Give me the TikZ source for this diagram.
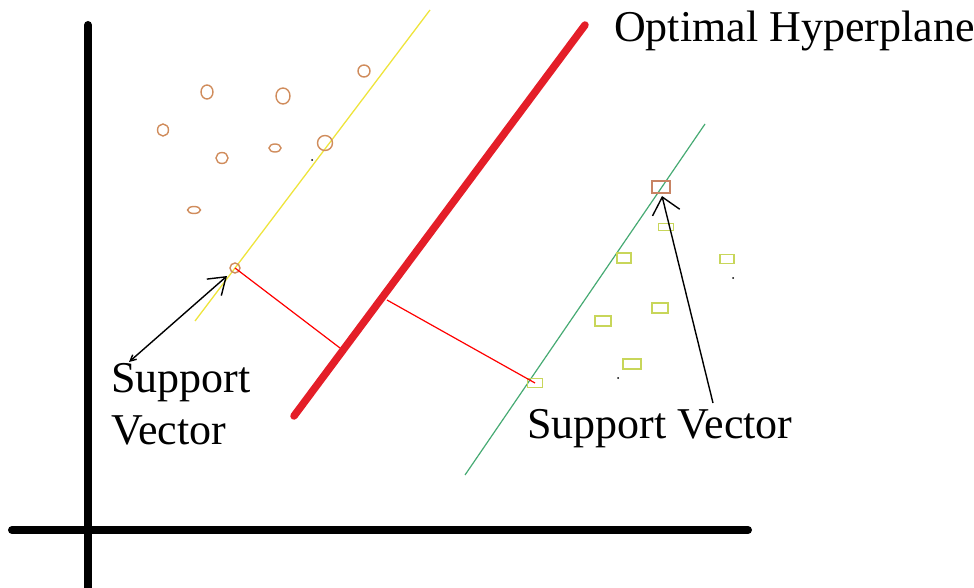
\documentclass[tikz,border=0pt]{standalone}
\usepackage{fontspec}
\setmainfont{Liberation Serif}
\usetikzlibrary{arrows.meta,shapes.geometric}
\definecolor{circcol}{RGB}{208,140,92}
\definecolor{rectcol}{RGB}{200,214,90}
\definecolor{svrect}{RGB}{200,132,100}
\definecolor{yelline}{RGB}{238,228,60}
\definecolor{grnline}{RGB}{70,170,115}
\definecolor{hypred}{RGB}{228,30,40}
\tikzset{
  axisline/.style={line width=8pt,line cap=round,black},
  pt/.style={ellipse,draw=circcol,line width=1.4pt,inner sep=0pt,minimum width=#1},
  bx/.style={rectangle,draw=rectcol,line width=1.4pt,inner sep=0pt},
  lbl/.style={font=\fontsize{44}{52}\selectfont,inner sep=0pt,anchor=base west},
  dotpt/.style={circle,fill=black,inner sep=0pt,minimum size=2pt},
  pointer/.style={black,line width=1.4pt}
}
\begin{document}
\begin{tikzpicture}[x=1pt,y=-1pt]
\useasboundingbox (0,0) rectangle (974,588);
% axes
\coordinate (ytop) at (88,25);
\coordinate (ybot) at (88,600);
\coordinate (xl) at (12,530);
\coordinate (xr) at (748,530);
\draw[axisline] (ytop) -- (ybot);
\draw[axisline] (xl) -- (xr);
% margin lines
\coordinate (ya) at (430,10);
\coordinate (yb) at (195,321);
\draw[yelline,line width=1.3pt] (ya) -- (yb);
\coordinate (ga) at (705,124);
\coordinate (gb) at (465,475);
\draw[grnline,line width=1.2pt] (ga) -- (gb);
% hyperplane
\coordinate (ha) at (585,25);
\coordinate (hb) at (294,416);
\draw[hypred,line width=7.5pt,line cap=round] (ha) -- (hb);
% circles
\node[pt=12pt,minimum height=14pt] (c1) at (207,92) {};
\node[pt=14pt,minimum height=16pt] (c2) at (283,96) {};
\node[pt=12pt,minimum height=12pt] (c3) at (364,71) {};
\node[pt=11pt,minimum height=12pt] (c4) at (163,130) {};
\node[pt=12pt,minimum height=11pt] (c5) at (222,158) {};
\node[pt=12pt,minimum height=8pt] (c6) at (275,148) {};
\node[pt=15pt,minimum height=15pt] (c7) at (325,143) {};
\node[pt=13pt,minimum height=7pt] (c8) at (194,210) {};
\node[pt=10pt,minimum height=10pt] (sv1) at (235,268) {};
% rectangles
\node[rectangle,draw=svrect,line width=1.4pt,inner sep=0pt,minimum width=18pt,minimum height=12pt] (sv2) at (661,187) {};
\node[bx,minimum width=15pt,minimum height=7pt] (r1) at (666,227) {};
\node[bx,minimum width=14pt,minimum height=10pt] (r2) at (624,258) {};
\node[bx,minimum width=14pt,minimum height=9pt] (r3) at (727,259) {};
\node[bx,minimum width=16pt,minimum height=10pt] (r4) at (660,308) {};
\node[bx,minimum width=16pt,minimum height=10pt] (r5) at (603,321) {};
\node[bx,minimum width=18pt,minimum height=10pt] (r6) at (632,364) {};
\node[bx,minimum width=15pt,minimum height=9pt] (sv3) at (535,383) {};
% small dots
\node[dotpt] (d1) at (312,160) {};
\node[dotpt] (d2) at (733,278) {};
\node[dotpt] (d3) at (618,378) {};
% margin distances
\coordinate (h1) at (340,348);
\coordinate (h2) at (387,300);
\draw[red,line width=1.2pt] (sv1.center) -- (h1);
\draw[red,line width=1.2pt] (h2) -- (sv3.center);
% labels
\node[lbl] (topt) at (614,42) {Optimal Hyperplane};
\node[lbl] (ts1) at (111,392) {Support};
\node[lbl] (ts2) at (111,444) {Vector};
\node[lbl] (ts3) at (527,438) {Support Vector};
% pointers
\coordinate (p1a) at (227,276);
\coordinate (p1b) at (129,362);
\draw[pointer,{Straight Barb[length=6pt,width=6pt]}-{Straight Barb[length=16pt,width=22pt]}] (p1b) -- (p1a);
\coordinate (p2a) at (662,196);
\coordinate (p2b) at (713,403);
\draw[pointer,-{Straight Barb[length=16pt,width=28pt]}] (p2b) -- (p2a);
\end{tikzpicture}
\end{document}
